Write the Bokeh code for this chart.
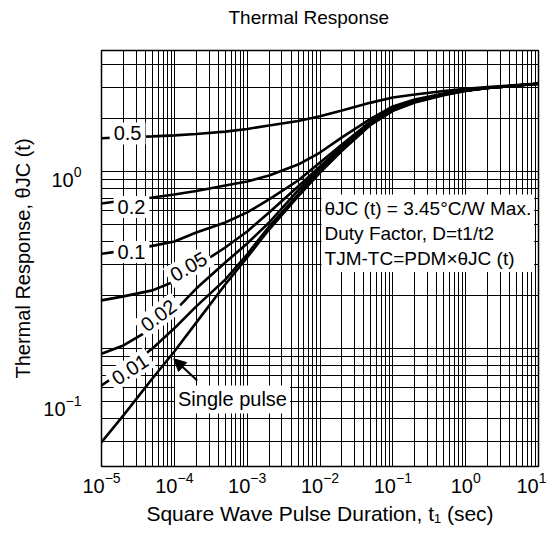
import math
from bokeh.plotting import figure
from bokeh.models import (Range1d, LogScale, LogAxis, LogTicker, FixedTicker, Label,
                          Arrow, NormalHead, Title)
from bokeh.embed import file_html
from bokeh.resources import INLINE

FONT = "Liberation Sans"

# ---- data (t in seconds, Zth in degC/W) ----
t_s = [1e-5, 2e-5, 5e-5, 1e-4, 2e-4, 5e-4, 1e-3, 2e-3, 5e-3, 1e-2,
       2e-2, 5e-2, 1e-1, 2e-1, 5e-1, 1, 2, 5, 10]
z_d050 = [1.54, 1.56, 1.58, 1.60, 1.63, 1.68, 1.74, 1.82, 1.93, 2.05,
          2.21, 2.45, 2.62, 2.72, 2.85, 2.93, 3.00, 3.08, 3.14]
z_d020 = [0.66, 0.686, 0.713, 0.741, 0.776, 0.834, 0.878, 0.949, 1.095, 1.28,
          1.56, 1.99, 2.33, 2.55, 2.76, 2.87, 2.96, 3.06, 3.13]
z_d010 = [0.343, 0.356, 0.380, 0.402, 0.452, 0.515, 0.587, 0.695, 0.889, 1.124,
          1.42, 1.92, 2.27, 2.52, 2.74, 2.87, 2.96, 3.06, 3.13]
z_d005 = [0.187, 0.197, 0.213, 0.239, 0.291, 0.372, 0.458, 0.587, 0.823, 1.067,
          1.38, 1.89, 2.25, 2.50, 2.74, 2.87, 2.96, 3.06, 3.13]
z_d002 = [0.0933, 0.104, 0.130, 0.162, 0.218, 0.306, 0.392, 0.515, 0.781, 1.04,
          1.37, 1.88, 2.24, 2.48, 2.72, 2.87, 2.96, 3.06, 3.13]
z_d001 = [0.0618, 0.0751, 0.100, 0.130, 0.173, 0.245, 0.340, 0.489, 0.741, 1.013,
          1.33, 1.85, 2.21, 2.47, 2.72, 2.86, 2.96, 3.06, 3.13]
z_single = [0.0296, 0.0419, 0.0677, 0.0962, 0.140, 0.230, 0.327, 0.470, 0.723, 0.987,
            1.31, 1.84, 2.20, 2.45, 2.70, 2.85, 2.96, 3.06, 3.13]

series = [z_d050, z_d020, z_d010, z_d005, z_d002, z_d001, z_single]

# curve labels: text, anchor (t, Z), angle in degrees
curve_labels = ["0.5", "0.2", "0.1", "0.05", "0.02", "0.01"]
label_t = [2.28e-5, 2.58e-5, 2.58e-5, 1.57e-4, 6.06e-5, 2.46e-5]
label_z = [1.64, 0.630, 0.351, 0.290, 0.1536, 0.0761]
label_angle = [0, 0, 0, 30, 37, 33]

# printed y tick labels (10^-1, 10^0) and the span over which they are printed
y_ticks = [0.1, 1]
y_tick_labels_range = (0.0542, 3.55)

p = figure(width=546, height=536,
           x_axis_type="log", y_axis_type="log", y_axis_location=None,
           x_range=Range1d(1e-5, 10), y_range=Range1d(0.02154, 4.826),
           output_backend="svg", toolbar_location=None,
           min_border_left=101, min_border_right=8,
           min_border_top=50, min_border_bottom=70,
           background_fill_color="white", border_fill_color="white")

p.outline_line_color = "black"
p.outline_line_width = 1.5

# grids
for g in (p.xgrid, p.ygrid):
    g.grid_line_color = "black"
    g.grid_line_alpha = 1.0
    g.grid_line_width = 1
    g.minor_grid_line_color = "black"
    g.minor_grid_line_alpha = 1.0
    g.minor_grid_line_width = 1
p.ygrid.ticker = LogTicker(num_minor_ticks=10)

# x axis
xa = p.xaxis[0]
xa.axis_line_color = None
xa.major_tick_line_color = None
xa.minor_tick_line_color = None
xa.major_tick_out = 0
xa.minor_tick_out = 0
xa.major_label_text_font = FONT
xa.major_label_text_font_size = "20px"
xa.major_label_text_color = "black"
xa.major_label_standoff = 5
xa.axis_label = "Square Wave Pulse Duration, t\u2081 (sec)"
xa.axis_label_text_font = FONT
xa.axis_label_text_font_size = "21px"
xa.axis_label_text_font_style = "normal"
xa.axis_label_text_color = "black"
xa.axis_label_standoff = 6

# y axis with printed labels
p.extra_y_ranges = {"lbl": Range1d(*y_tick_labels_range)}
p.extra_y_scales = {"lbl": LogScale()}
ya = LogAxis(y_range_name="lbl", ticker=FixedTicker(ticks=y_ticks, minor_ticks=[]))
ya.axis_line_color = None
ya.major_tick_line_color = None
ya.minor_tick_line_color = None
ya.major_tick_out = 0
ya.minor_tick_out = 0
ya.major_label_text_font = FONT
ya.major_label_text_font_size = "20px"
ya.major_label_text_color = "black"
ya.major_label_standoff = 20
ya.axis_label = "Thermal Response, \u03b8JC (t)"
ya.axis_label_text_font = FONT
ya.axis_label_text_font_size = "20px"
ya.axis_label_text_font_style = "normal"
ya.axis_label_text_color = "black"
ya.axis_label_standoff = 6
p.add_layout(ya, "left")

# spacing panel between the frame and the title
p.add_layout(Title(text=" ", text_font_size="1px", standoff=20), "above")

# title
p.title.text = "Thermal Response"
p.title.align = "left"
p.title.offset = 127
p.title.text_font = FONT
p.title.text_font_size = "19px"
p.title.text_font_style = "normal"
p.title.text_color = "black"
p.title.vertical_align = "bottom"
p.title.standoff = 0

# curves
for z in series:
    p.line(t_s, z, line_color="black", line_width=2.6)

# curve labels
for txt, tx, tz, ang in zip(curve_labels, label_t, label_z, label_angle):
    p.add_layout(Label(x=tx, y=tz, text=txt, angle=math.radians(ang),
                       text_align="center", text_baseline="middle",
                       text_font=FONT, text_font_size="20px", text_color="black",
                       background_fill_color="white", padding=4))

p.add_layout(Label(x=6.29e-4, y=0.0515, text="Single pulse",
                   text_align="center", text_baseline="middle",
                   text_font=FONT, text_font_size="20px", text_color="black",
                   background_fill_color="white", padding=3))

p.add_layout(Arrow(end=NormalHead(size=12, fill_color="black", line_color="black"),
                   x_start=2.06e-4, y_start=0.0659, x_end=9.83e-5, y_end=0.0874,
                   line_color="black", line_width=2))

note = "\u03b8JC (t) = 3.45\u00b0C/W Max.\nDuty Factor, D=t1/t2\nTJM-TC=PDM\u00d7\u03b8JC (t)"
p.add_layout(Label(x=0.0105, y=0.741, text=note,
                   text_align="left", text_baseline="top",
                   text_font=FONT, text_font_size="19px", text_color="black",
                   background_fill_color="white", padding=3))

open("out.html", "w").write(file_html(p, INLINE))
